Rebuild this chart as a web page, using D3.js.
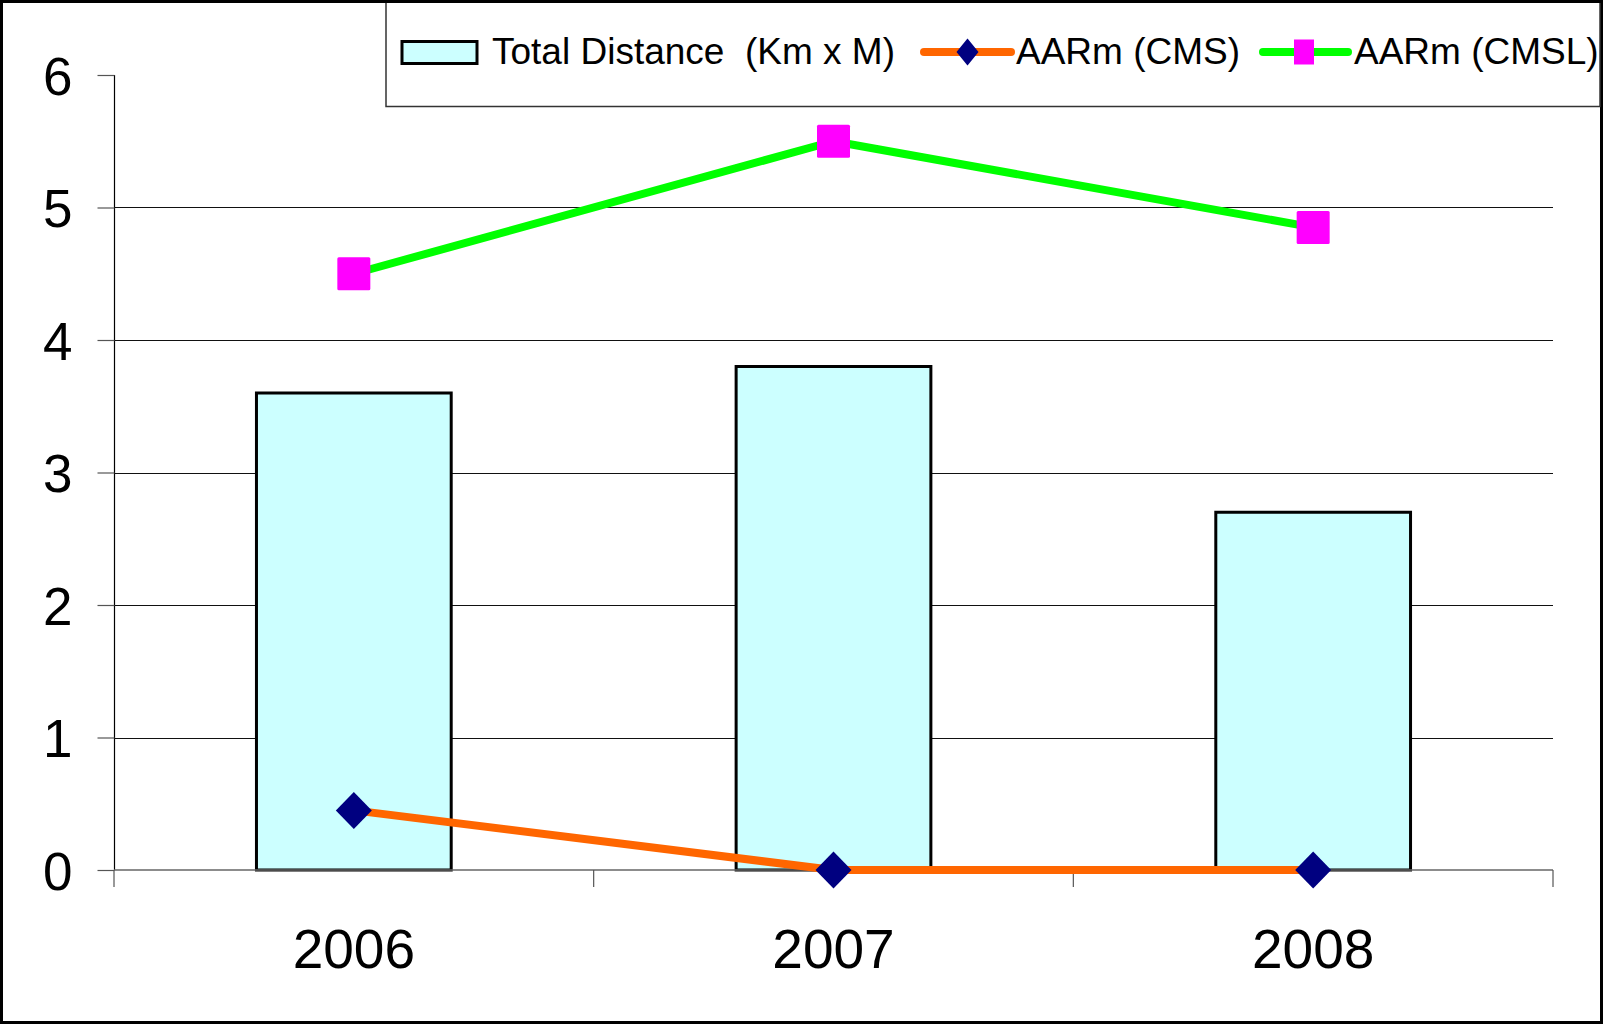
<!DOCTYPE html>
<html>
<head>
<meta charset="utf-8">
<script src="https://cdn.jsdelivr.net/npm/d3@7"></script>
<style>
  html, body { margin: 0; padding: 0; background: #fff; }
  svg { display: block; }
  text { font-family: "Liberation Sans", Arial, sans-serif; fill: #000; }
</style>
</head>
<body>
<svg id="chart" width="1603" height="1024"></svg>
<script>
const categories = ["2006", "2007", "2008"];
const totalDistance = [3.6, 3.8, 2.7];
const aarmCMS = [0.45, 0, 0];
const aarmCMSL = [4.5, 5.5, 4.85];
const yTicks = [0, 1, 2, 3, 4, 5, 6];
const seriesNames = ["Total Distance  (Km x M)", "AARm (CMS)", "AARm (CMSL)"];

const W = 1603, H = 1024;
const plot = { left: 114, right: 1553, top: 75, bottom: 870 };

const svg = d3.select("#chart");

// outer border
svg.append("rect").attr("x", 1.5).attr("y", 1.5).attr("width", W - 3).attr("height", H - 3)
  .attr("fill", "#fff").attr("stroke", "#000").attr("stroke-width", 3);

const x = d3.scaleBand().domain(categories).range([plot.left, plot.right]).paddingInner(0).paddingOuter(0);
const y = d3.scaleLinear().domain([0, 6]).range([plot.bottom, plot.top]);

// gridlines (1..5)
svg.append("g").selectAll("line").data(yTicks.filter(d => d > 0 && d < 6)).join("line")
  .attr("x1", plot.left).attr("x2", plot.right)
  .attr("y1", d => Math.round(y(d)) + 0.5).attr("y2", d => Math.round(y(d)) + 0.5)
  .attr("stroke", "#111").attr("stroke-width", 1.2);

// y axis
const yAxis = d3.axisLeft(y).tickValues(yTicks).tickSize(17).tickPadding(25).tickFormat(d3.format("d"));
const gy = svg.append("g").attr("transform", `translate(${plot.left + 0.5},0)`).call(yAxis);
gy.select(".domain").attr("stroke", "#000").attr("stroke-width", 1.2).attr("d", `M0,${plot.top}V${plot.bottom}`);
gy.selectAll(".tick line").attr("stroke", "#555").attr("stroke-width", 1.2);
gy.selectAll(".tick text").style("font-family", '"Liberation Sans", Arial, sans-serif')
  .style("font-size", "53px").attr("fill", "#000").attr("dy", "0.36em");

// bars
const barW = x.bandwidth() * 0.406;
svg.append("g").selectAll("rect").data(categories).join("rect")
  .attr("x", (d) => x(d) + (x.bandwidth() - barW) / 2)
  .attr("y", (d, i) => y(totalDistance[i]))
  .attr("width", barW)
  .attr("height", (d, i) => y(0) - y(totalDistance[i]))
  .attr("fill", "#CCFFFF").attr("stroke", "#000").attr("stroke-width", 3);

// x axis
const boundaries = categories.map(c => x(c)).concat([plot.right]);
const gx = svg.append("g");
gx.append("line").attr("x1", plot.left).attr("x2", plot.right)
  .attr("y1", y(0)).attr("y2", y(0)).attr("stroke", "#666").attr("stroke-width", 1.5);
gx.selectAll("line.tk").data(boundaries).join("line").attr("class", "tk")
  .attr("x1", d => d).attr("x2", d => d).attr("y1", y(0)).attr("y2", y(0) + 17)
  .attr("stroke", "#555").attr("stroke-width", 1.2);
gx.selectAll("text").data(categories).join("text")
  .attr("x", d => x(d) + x.bandwidth() / 2).attr("y", 968)
  .attr("text-anchor", "middle").style("font-size", "55px").text(d => d);

const cx = (i) => x(categories[i]) + x.bandwidth() / 2;

// CMS line (orange with navy diamonds)
const lineGen = d3.line().x((d, i) => cx(i)).y(d => y(d));
svg.append("path").datum(aarmCMS).attr("d", lineGen)
  .attr("fill", "none").attr("stroke", "#FF6600").attr("stroke-width", 8).attr("stroke-linejoin", "round");
// CMSL line (green with magenta squares)
svg.append("path").datum(aarmCMSL).attr("d", lineGen)
  .attr("fill", "none").attr("stroke", "#00FF00").attr("stroke-width", 8).attr("stroke-linejoin", "round");

const diamond = (cxp, cyp, w, h) => `M${cxp},${cyp - h / 2}L${cxp + w / 2},${cyp}L${cxp},${cyp + h / 2}L${cxp - w / 2},${cyp}Z`;
svg.append("g").selectAll("path").data(aarmCMS).join("path")
  .attr("d", (d, i) => diamond(cx(i), y(d), 36, 37)).attr("fill", "#000080");
svg.append("g").selectAll("rect").data(aarmCMSL).join("rect")
  .attr("x", (d, i) => cx(i) - 16.5).attr("y", d => y(d) - 16.5)
  .attr("width", 33).attr("height", 33).attr("rx", 1.5).attr("fill", "#FF00FF");

// legend
const lg = svg.append("g");
lg.append("rect").attr("x", 386).attr("y", 1.5).attr("width", 1600 - 386).attr("height", 105)
  .attr("fill", "#fff").attr("stroke", "#333").attr("stroke-width", 1.5);
// restore outer border top over legend
svg.append("line").attr("x1", 0).attr("x2", W).attr("y1", 1.5).attr("y2", 1.5).attr("stroke", "#000").attr("stroke-width", 3);
const ly = 52;
lg.append("rect").attr("x", 402).attr("y", ly - 10.5).attr("width", 75).attr("height", 22)
  .attr("fill", "#CCFFFF").attr("stroke", "#000").attr("stroke-width", 3);
lg.append("line").attr("x1", 924).attr("x2", 1011).attr("y1", ly).attr("y2", ly)
  .attr("stroke", "#FF6600").attr("stroke-width", 8).attr("stroke-linecap", "round");
lg.append("path").attr("d", diamond(967.5, ly, 22, 27)).attr("fill", "#000080");
lg.append("line").attr("x1", 1263).attr("x2", 1348).attr("y1", ly).attr("y2", ly)
  .attr("stroke", "#00FF00").attr("stroke-width", 8).attr("stroke-linecap", "round");
lg.append("rect").attr("x", 1304 - 10).attr("y", ly - 12.5).attr("width", 20).attr("height", 25).attr("fill", "#FF00FF");
const legendX = [492, 1016, 1354];
lg.selectAll("text").data(seriesNames).join("text")
  .attr("x", (d, i) => legendX[i]).attr("y", ly + 12)
  .attr("xml:space", "preserve").style("white-space", "pre")
  .style("font-size", "37px").text(d => d);
</script>
</body>
</html>
